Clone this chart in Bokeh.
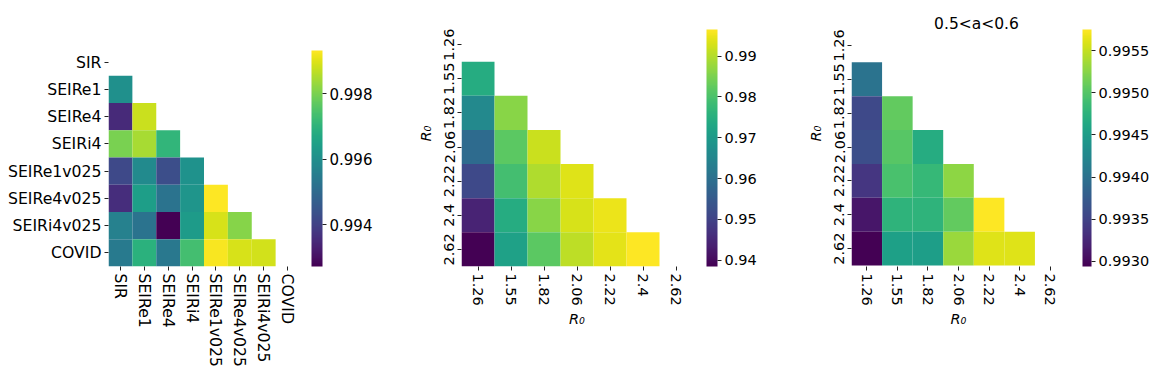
from bokeh.plotting import figure
from bokeh.models import (LinearColorMapper, ColorBar, FixedTicker, ColumnDataSource,
                          Label, Range1d, PrintfTickFormatter)
from bokeh.layouts import row
from bokeh.palettes import Viridis256
from bokeh.embed import file_html
from bokeh.resources import INLINE

FONT = "DejaVu Sans"

# ---------------- data ----------------
models = ["SIR", "SEIRe1", "SEIRe4", "SEIRi4", "SEIRe1v025", "SEIRe4v025", "SEIRi4v025", "COVID"]
# lower triangle (row i holds values for columns 0..i-1)
corr_models = [
    [],
    [0.99603],
    [0.99351, 0.99880],
    [0.99801, 0.99847, 0.99708],
    [0.99417, 0.99589, 0.99431, 0.99609],
    [0.99358, 0.99642, 0.99523, 0.99616, 0.99933],
    [0.99563, 0.99523, 0.99272, 0.99636, 0.99893, 0.99814],
    [0.99543, 0.99695, 0.99536, 0.99735, 0.99926, 0.99893, 0.99887],
]
models_cbar_ticks = [0.994, 0.996, 0.998]

r0_labels = ["1.26", "1.55", "1.82", "2.06", "2.22", "2.4", "2.62"]
corr_r0_all = [
    [],
    [0.9745],
    [0.9657, 0.9861],
    [0.9588, 0.9820, 0.9919],
    [0.9512, 0.9791, 0.9896, 0.9936],
    [0.9443, 0.9745, 0.9861, 0.9930, 0.9948],
    [0.93844, 0.9716, 0.9820, 0.9907, 0.9942, 0.99653],
]
r0_all_cbar_ticks = [0.94, 0.95, 0.96, 0.97, 0.98, 0.99]

corr_r0_a = [
    [],
    [0.99401],
    [0.99356, 0.99508],
    [0.99361, 0.99502, 0.99468],
    [0.99339, 0.99494, 0.99482, 0.99527],
    [0.99311, 0.99477, 0.99477, 0.99508, 0.99575],
    [0.99294, 0.99454, 0.99451, 0.99533, 0.99561, 0.99561],
]
r0_a_cbar_ticks = [0.9930, 0.9935, 0.9940, 0.9945, 0.9950, 0.9955]
r0_a_title = "0.5<a<0.6"

# ---------------- layout constants ----------------
HEIGHT = 375
FRAME_H = 266  # every frame runs from page y 0 to 266


def lower_source(values):
    xs, ys, vs = [], [], []
    for i, rowvals in enumerate(values):
        for j, v in enumerate(rowvals):
            xs.append(j + 0.5); ys.append(i + 0.5); vs.append(v)
    return ColumnDataSource(dict(x=xs, y=ys, v=vs))


def heatmap(labels, values, ticks, fmt, width, left, fw, data_top, data_h,
            tick_size, cb_size, cb_gap, cb_w, cb_h, axis_label=None, vert_y=False):
    n = len(labels)
    row_h = data_h / n
    flat = [v for r in values for v in r]
    mapper = LinearColorMapper(palette=Viridis256, low=min(flat), high=max(flat))
    y_start = n + (FRAME_H - data_top - data_h) / row_h
    y_end = -data_top / row_h
    p = figure(width=width, height=HEIGHT, title=None,
               x_range=Range1d(0, n), y_range=Range1d(y_start, y_end),
               output_backend="svg", toolbar_location=None, tools="",
               min_border_left=left, min_border_top=0,
               min_border_right=width - left - fw,
               min_border_bottom=HEIGHT - FRAME_H)
    src = lower_source(values)
    p.rect(x="x", y="y", width=1, height=1, source=src,
           fill_color={"field": "v", "transform": mapper}, line_color=None)
    p.grid.grid_line_color = None
    p.outline_line_color = None
    p.background_fill_color = "white"
    p.border_fill_color = "white"
    tick_pos = [k + 0.5 for k in range(n)]
    overrides = {k + 0.5: lab for k, lab in enumerate(labels)}
    for ax in p.axis:
        ax.ticker = FixedTicker(ticks=tick_pos)
        ax.major_label_overrides = overrides
        ax.minor_tick_line_color = None
        ax.axis_line_color = None
        ax.major_tick_in = 0
        ax.major_tick_out = 4
        ax.major_tick_line_color = "#222222"
        ax.major_tick_line_width = 1
        ax.major_label_text_font = FONT
        ax.major_label_text_font_size = tick_size
        ax.major_label_text_color = "black"
        ax.major_label_standoff = 3
    p.xaxis.major_label_orientation = "vertical"
    if vert_y:
        p.yaxis.major_label_orientation = "vertical"
    if axis_label:
        for ax in p.axis:
            ax.axis_label = axis_label
            ax.axis_label_text_font = FONT
            ax.axis_label_text_font_size = tick_size
            ax.axis_label_text_font_style = "italic"
            ax.axis_label_text_color = "black"
        p.xaxis.axis_label_standoff = 2
        p.yaxis.axis_label_standoff = 8
    cb = ColorBar(color_mapper=mapper, ticker=FixedTicker(ticks=ticks),
                  formatter=PrintfTickFormatter(format=fmt),
                  location=(fw + cb_gap, 0), width=cb_w, height=cb_h,
                  padding=0, margin=0, major_tick_in=0, major_tick_out=4,
                  major_tick_line_color="#222222", label_standoff=3,
                  major_label_text_font=FONT, major_label_text_font_size=cb_size,
                  major_label_text_color="black", bar_line_color=None,
                  border_line_color=None, background_fill_alpha=0)
    p.add_layout(cb, "center")
    return p, row_h


p1, _ = heatmap(models, corr_models, models_cbar_ticks, "%.3f",
                width=400, left=108, fw=191, data_top=48, data_h=218,
                tick_size="15.7px", cb_size="15px", cb_gap=12, cb_w=11, cb_h=216)
p2, _ = heatmap(r0_labels, corr_r0_all, r0_all_cbar_ticks, "%.2f",
                width=390, left=61, fw=231, data_top=27, data_h=239,
                tick_size="14.5px", cb_size="14.5px", cb_gap=14, cb_w=11, cb_h=237,
                axis_label="R₀", vert_y=True)
p3, rh3 = heatmap(r0_labels, corr_r0_a, r0_a_cbar_ticks, "%.4f",
                  width=370, left=61, fw=214, data_top=28, data_h=237,
                  tick_size="14.5px", cb_size="14.5px", cb_gap=17, cb_w=9, cb_h=237,
                  axis_label="R₀", vert_y=True)
col_w3 = 214 / len(r0_labels)
p3.add_layout(Label(x=125 / col_w3, y=-4.7 / rh3,
                    text=r0_a_title, text_align="center", text_baseline="alphabetic",
                    text_font=FONT, text_font_size="15.5px", text_color="black"))

layout = row(p1, p2, p3)
open("out.html", "w").write(file_html(layout, INLINE))
